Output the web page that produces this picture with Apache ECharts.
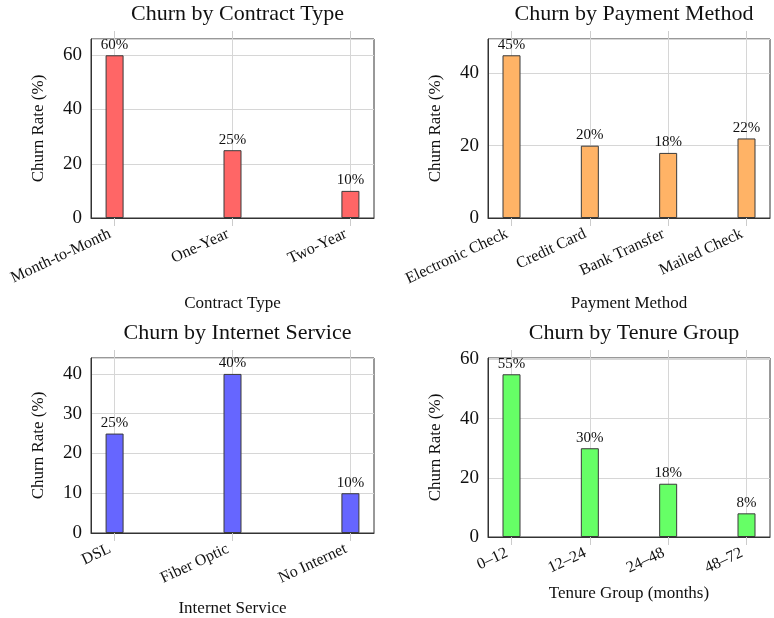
<!DOCTYPE html>
<html>
<head>
<meta charset="utf-8">
<script src="https://cdn.jsdelivr.net/npm/echarts@6/dist/echarts.min.js"></script>
<style>
  html, body { margin: 0; padding: 0; background: #fff; }
  #main { width: 774px; height: 618px; }
</style>
</head>
<body>
<div id="main"></div>
<script>
// data
var contractTypes = ['Month-to-Month', 'One-Year', 'Two-Year'];
var contractChurn = [60, 25, 10];
var paymentMethods = ['Electronic Check', 'Credit Card', 'Bank Transfer', 'Mailed Check'];
var paymentChurn = [45, 20, 18, 22];
var internetServices = ['DSL', 'Fiber Optic', 'No Internet'];
var internetChurn = [25, 40, 10];
var tenureGroups = ['0\u201312', '12\u201324', '24\u201348', '48\u201372'];
var tenureChurn = [55, 30, 18, 8];

var contractTicks = [0, 20, 40, 60];
var paymentTicks = [0, 20, 40];
var internetTicks = [0, 10, 20, 30, 40];
var tenureTicks = [0, 20, 40, 60];

var FONT = 'Liberation Serif';

// one entry per panel: data + layout
var panels = [
    { title: 'Churn by Contract Type', xName: 'Contract Type', cats: contractTypes, vals: contractChurn, ticks: contractTicks,
      color: '#FF6666', left: 91, top: 39, width: 283, height: 179, nameGap: 77 },
    { title: 'Churn by Payment Method', xName: 'Payment Method', cats: paymentMethods, vals: paymentChurn, ticks: paymentTicks,
      color: '#FFB366', left: 488, top: 39, width: 282, height: 179, nameGap: 77 },
    { title: 'Churn by Internet Service', xName: 'Internet Service', cats: internetServices, vals: internetChurn, ticks: internetTicks,
      color: '#6666FF', left: 91, top: 358, width: 283, height: 179, nameGap: 67 },
    { title: 'Churn by Tenure Group', xName: 'Tenure Group (months)', cats: tenureGroups, vals: tenureChurn, ticks: tenureTicks,
      color: '#66FF66', left: 488, top: 358, width: 282, height: 179, nameGap: 48 }
];

var titles = [], grids = [], xAxes = [], yAxes = [], series = [];

panels.forEach(function (p, i) {
    var n = p.cats.length;
    var pad = (n - 1) * 0.1;          // enlarge x limits by 10%
    var maxVal = Math.max.apply(null, p.vals);
    var step = p.ticks[1] - p.ticks[0];
    var idx = p.cats.map(function (c, k) { return k; });

    titles.push({
        text: p.title,
        left: p.left + p.width / 2,
        top: p.top - 41,
        textAlign: 'center',
        textStyle: { fontFamily: FONT, fontSize: 22, fontWeight: 'normal', color: '#111' }
    });
    grids.push({
        left: p.left, top: p.top, width: p.width, height: p.height,
        show: true, borderColor: '#333', borderWidth: 1, backgroundColor: 'transparent'
    });
    // bottom x axis with category labels
    xAxes.push({
        type: 'value', gridIndex: i, min: -pad, max: n - 1 + pad,
        name: p.xName, nameLocation: 'middle', nameGap: p.nameGap,
        nameTextStyle: { fontFamily: FONT, fontSize: 17, color: '#111' },
        axisLine: { show: true, onZero: false, lineStyle: { color: '#333' } },
        axisTick: { show: true, inside: false, length: 8, customValues: idx, lineStyle: { color: '#ccc' } },
        axisLabel: {
            customValues: idx, rotate: 25, margin: 13, padding: [0, 5, 0, 0],
            fontFamily: FONT, fontSize: 16, color: '#111',
            formatter: function (v) { return p.cats[Math.round(v)]; }
        },
        splitLine: { show: true, lineStyle: { color: '#d6d6d6' } }
    });
    // top x axis only for the outside tick stubs
    xAxes.push({
        type: 'value', gridIndex: i, position: 'top', min: -pad, max: n - 1 + pad,
        axisLine: { show: false, onZero: false },
        axisTick: { show: true, inside: false, length: 8, customValues: idx, lineStyle: { color: '#ccc' } },
        axisLabel: { show: false },
        splitLine: { show: false }
    });
    yAxes.push({
        type: 'value', gridIndex: i, min: 0, max: maxVal * 1.1, interval: step,
        name: 'Churn Rate (%)', nameLocation: 'middle', nameGap: 44, nameRotate: 90,
        nameTextStyle: { fontFamily: FONT, fontSize: 17, color: '#111' },
        axisLine: { show: true, onZero: false, lineStyle: { color: '#333' } },
        axisTick: { show: false },
        axisLabel: {
            margin: 9, fontFamily: FONT, fontSize: 19, color: '#111',
            formatter: function (v) { return p.ticks.indexOf(v) >= 0 ? String(v) : ''; }
        },
        splitLine: { show: true, lineStyle: { color: '#d6d6d6' } }
    });
    series.push({
        type: 'bar',
        xAxisIndex: i * 2, yAxisIndex: i,
        barWidth: 18,
        data: p.vals.map(function (v, k) { return [k, v]; }),
        itemStyle: { color: p.color, borderColor: '#3a3a3a', borderWidth: 1 },
        label: {
            show: true, position: 'top', distance: 3,
            fontFamily: FONT, fontSize: 15, color: '#111',
            formatter: function (d) { return d.value[1] + '%'; }
        },
        silent: true
    });
});

var chart = echarts.init(document.getElementById('main'), null, { renderer: 'canvas' });
chart.setOption({
    animation: false,
    backgroundColor: '#fff',
    title: titles,
    grid: grids,
    xAxis: xAxes,
    yAxis: yAxes,
    series: series
});
</script>
</body>
</html>
